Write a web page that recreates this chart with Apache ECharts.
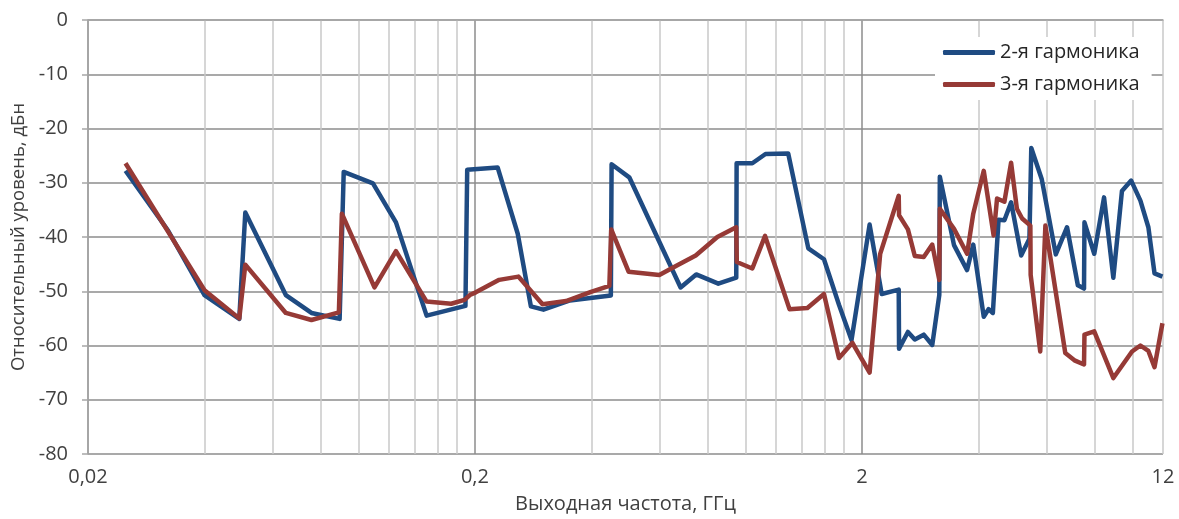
<!DOCTYPE html>
<html><head><meta charset="utf-8">
<script src="https://cdn.jsdelivr.net/npm/echarts@6/dist/echarts.min.js"></script>
<style>html,body{margin:0;padding:0;background:#fff}#c{width:1179px;height:519px}</style>
</head><body><div id="c"></div>
<script>
const freq2 = [0.025,0.0322,0.040,0.0492,0.051,0.0649,0.0756,0.0894,0.0916,0.109,0.125,0.150,0.189,0.191,0.229,0.258,0.279,0.3006,0.352,0.449,0.451,0.501,0.680,0.746,0.851,0.947,0.949,1.042,1.127,1.29,1.454,1.596,1.745,1.88,2.094,2.25,2.49,2.495,2.63,2.74,2.89,3.04,3.17,3.18,3.46,3.74,3.88,4.13,4.25,4.36,4.51,4.67,4.86,5.16,5.42,5.48,5.83,6.34,6.78,7.23,7.50,7.52,7.97,8.45,8.93,9.40,9.93,10.49,11.0,11.41,11.96];
const harm2 = [-27.8,-38.8,-50.7,-55.1,-35.5,-50.7,-54.0,-55.1,-28.0,-30.1,-37.3,-54.5,-52.7,-27.6,-27.2,-39.4,-52.8,-53.4,-51.7,-50.8,-26.6,-29.0,-49.3,-46.9,-48.6,-47.5,-26.4,-26.4,-24.7,-24.6,-42.1,-44.1,-52.5,-59.0,-37.7,-50.5,-49.7,-60.6,-57.5,-58.9,-58.0,-59.9,-50.7,-28.9,-41.5,-46.1,-41.4,-54.7,-53.3,-54.0,-36.8,-36.9,-33.6,-43.4,-40.3,-23.6,-29.3,-43.2,-38.2,-48.9,-49.5,-37.3,-43.1,-32.7,-47.5,-31.5,-29.6,-33.3,-38.2,-46.7,-47.3];
const freq3 = [0.025,0.040,0.0492,0.051,0.0649,0.0756,0.089,0.0906,0.110,0.125,0.150,0.1736,0.188,0.194,0.201,0.231,0.259,0.299,0.344,0.399,0.445,0.450,0.499,0.599,0.667,0.744,0.846,0.947,0.95,1.042,1.124,1.30,1.446,1.596,1.745,1.89,2.094,2.23,2.49,2.495,2.63,2.74,2.89,3.04,3.17,3.18,3.46,3.74,3.88,4.13,4.38,4.47,4.67,4.86,5.03,5.19,5.45,5.46,5.78,5.96,6.71,7.11,7.50,7.52,7.97,8.93,9.98,10.49,11.0,11.41,11.96];
const harm3 = [-26.4,-49.8,-55.0,-45.1,-54.0,-55.3,-53.9,-35.7,-49.3,-42.6,-51.9,-52.3,-51.6,-50.7,-50.2,-47.9,-47.3,-52.4,-51.8,-50.1,-49.0,-38.6,-46.4,-47.0,-45.2,-43.4,-40.0,-38.2,-44.6,-45.8,-39.8,-53.3,-53.1,-50.5,-62.3,-59.5,-65.0,-43.1,-32.4,-36.0,-38.6,-43.5,-43.7,-41.4,-47.9,-34.8,-38.5,-43.1,-35.7,-27.8,-39.7,-32.9,-33.5,-26.3,-34.8,-36.6,-37.9,-47.0,-61.1,-37.9,-61.4,-62.8,-63.5,-58.0,-57.4,-66.0,-61.1,-60.0,-61.0,-64.0,-55.9];
const xLabels = [0.02, 0.2, 2, 12];
const xGrid = [0.02,0.04,0.06,0.08,0.1,0.12,0.14,0.16,0.18,0.2,0.4,0.6,0.8,1,1.2,1.4,1.6,1.8,2,4,6,8,10,12];
const seriesNames = ['2-я гармоника', '3-я гармоника'];

const zip = (a, b) => a.map((v, i) => [v, b[i]]);
const font = '"Open Sans", "DejaVu Sans", sans-serif';
const chart = echarts.init(document.getElementById('c'), null, {renderer: 'canvas'});
chart.setOption({
  animation: false,
  backgroundColor: '#fff',
  grid: {left: 88, right: 16, top: 20, bottom: 62, containLabel: false},
  legend: {
    orient: 'vertical', left: 935, top: 37,
    padding: [5, 12, 5, 8], itemGap: 11,
    itemWidth: 52, itemHeight: 5, icon: 'roundRect',
    backgroundColor: '#fff',
    textStyle: {fontFamily: font, fontSize: 20, color: '#262626', lineHeight: 21}
  },
  xAxis: {
    type: 'log', logBase: 10, min: 0.02, max: 12,
    name: 'Выходная частота, ГГц', nameLocation: 'middle', nameGap: 40,
    nameTextStyle: {fontFamily: font, fontSize: 20, color: '#404040'},
    axisLine: {show: true, lineStyle: {color: '#a6a6a6', width: 1.5}},
    axisTick: {show: false, customValues: xGrid},
    axisLabel: {customValues: xLabels, fontFamily: font, fontSize: 20, color: '#404040', margin: 13,
      formatter: v => String(+v.toPrecision(6)).replace('.', ',')},
    splitLine: {show: true, lineStyle: {width: 1.5,
      color: ['#8c8c8c','#c8c8c8','#c8c8c8','#c8c8c8','#c8c8c8','#c8c8c8','#c8c8c8','#c8c8c8','#c8c8c8']}}
  },
  yAxis: {
    type: 'value', min: -80, max: 0, interval: 10,
    name: 'Относительный уровень, дБн', nameLocation: 'middle', nameGap: 60,
    nameTextStyle: {fontFamily: font, fontSize: 18.5, color: '#404040'},
    axisLine: {show: true, lineStyle: {color: '#a6a6a6', width: 1.5}},
    axisTick: {show: true, length: 6, lineStyle: {color: '#a6a6a6', width: 1.5}},
    axisLabel: {fontFamily: font, fontSize: 20, color: '#404040', margin: 20},
    splitLine: {show: true, lineStyle: {color: '#8c8c8c', width: 1.5}}
  },
  series: [
    {name: seriesNames[0], type: 'line', data: zip(freq2, harm2), showSymbol: false, symbol: 'none',
     lineStyle: {color: '#1f4b82', width: 4.5, join: 'round'}, itemStyle: {color: '#1f4b82'}},
    {name: seriesNames[1], type: 'line', data: zip(freq3, harm3), showSymbol: false, symbol: 'none',
     lineStyle: {color: '#963a36', width: 4.5, join: 'round'}, itemStyle: {color: '#963a36'}}
  ]
});
</script></body></html>
